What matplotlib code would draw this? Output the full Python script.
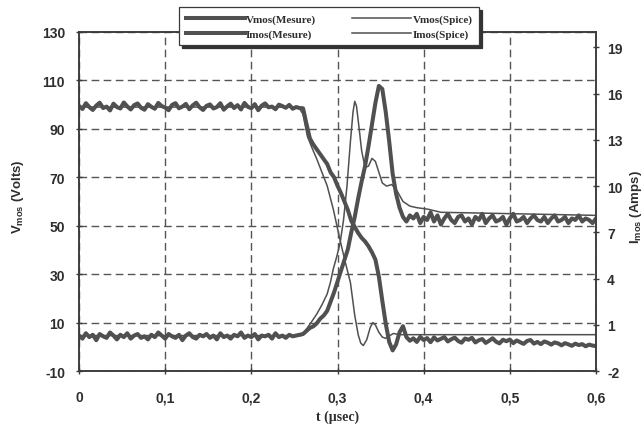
import numpy as np
import matplotlib
matplotlib.use("Agg")
import matplotlib.pyplot as plt

plt.rcParams["font.family"] = ["Liberation Sans", "DejaVu Sans"]
plt.rcParams["mathtext.fontset"] = "custom"
plt.rcParams["mathtext.rm"] = "Liberation Sans"
plt.rcParams["mathtext.bf"] = "Liberation Sans:bold"
plt.rcParams["axes.unicode_minus"] = False

# ---- sampling grid of the oscilloscope records (µs) ----
t_meas = np.round(np.arange(151) * 0.004, 3)

# ---- Vmos measured (V) ----
v_meas = [
    99.5, 98.2, 100.6, 99.0, 97.8, 99.6, 100.8, 98.6, 99.2, 97.6, 100.4, 99.0, 98.4, 100.9, 99.3, 98.0, 99.8, 100.5, 98.7, 97.9,
    100.2, 99.1, 98.3, 100.7, 99.4, 98.8, 97.7, 99.9, 100.6, 98.5, 99.2, 100.3, 98.1, 99.7, 100.8, 98.9, 97.8, 99.5, 100.1, 98.4,
    99.0, 100.6, 97.9, 99.3, 100.4, 98.6, 99.8, 98.0, 100.7, 99.1, 98.5, 100.2, 97.7, 99.6, 100.5, 98.9, 99.2, 98.1, 100.0, 99.4,
    98.7, 99.9, 98.3, 99.0, 98.6,
    98.5, 92, 86, 83.5, 81.5, 79.5, 77.5, 75.5, 72, 70, 66.5, 63.5, 60, 56.5, 52, 49.5, 47, 45, 43.5, 41.5,
    39, 36, 29, 19, 9.5, 2, -1.5, 1, 6, 8.5, 4, 2.5,
    3.5, 2.0, 4.1, 2.8, 3.6, 1.9, 3.9, 2.6, 3.3, 4.0, 2.2, 3.1, 3.8, 2.4, 1.7, 3.4, 2.9, 3.7, 1.8, 2.7,
    3.2, 1.6, 2.5, 3.5, 2.1, 1.4, 2.9, 2.3, 3.0, 1.5, 2.6, 1.9, 1.2, 2.4, 2.8, 1.3, 2.0, 1.1, 2.2, 1.7,
    0.9, 1.8, 1.4, 0.6, 1.5, 1.0, 0.4, 1.3, 0.7, 1.1, 0.2, 0.9, 0.5, 0.3,
]

# ---- Imos measured (A) ----
i_meas = [
    0.3, 0.1, 0.45, 0.2, 0.35, 0.0, 0.4, 0.25, 0.15, 0.5, 0.3, 0.05, 0.35, 0.2, 0.45, 0.1, 0.3, 0.4, 0.15, 0.25,
    0.05, 0.35, 0.2, 0.5, 0.3, 0.1, 0.4, 0.25, 0.15, 0.35, 0.0, 0.3, 0.45, 0.2, 0.1, 0.35, 0.25, 0.4, 0.15, 0.3,
    0.05, 0.45, 0.2, 0.3, 0.1, 0.35, 0.25, 0.5, 0.15, 0.3, 0.2, 0.4, 0.05, 0.3, 0.25, 0.35, 0.1, 0.45, 0.2, 0.3,
    0.15, 0.35, 0.25, 0.3, 0.35,
    0.4, 0.6, 0.8, 0.9, 1.1, 1.4, 1.6, 1.9, 2.5, 3.1, 3.8, 4.5, 5.2, 5.9, 7.0, 8.0, 9.2, 10.3, 11.3, 12.6,
    14.0, 15.4, 16.5, 16.3, 14.8, 12.9, 10.8, 9.5, 8.6, 8.0, 7.7, 8.1,
    7.9, 8.2, 7.6, 8.0, 7.8, 8.3, 7.7, 8.1, 7.5, 7.9, 8.2, 7.8, 7.6, 8.0, 8.1, 7.7, 7.9, 7.5, 8.0, 7.8,
    8.2, 7.6, 7.9, 8.1, 7.7, 7.8, 8.0, 7.5, 7.9, 8.2, 7.7, 7.8, 8.0, 7.6, 7.9, 8.1, 7.8, 7.7, 8.0, 7.6,
    7.9, 8.1, 7.7, 7.8, 8.0, 7.6, 7.9, 7.8, 8.1, 7.7, 7.9, 7.8, 7.6, 7.9,
]

# ---- Vmos simulated (Spice) ----
t_vspice = [0, 0.255, 0.260, 0.265, 0.270, 0.276, 0.282, 0.288, 0.295, 0.303, 0.309, 0.315,
            0.320, 0.324, 0.327, 0.330, 0.334, 0.338, 0.341, 0.344, 0.348, 0.352, 0.356,
            0.360, 0.365, 0.372, 0.380, 0.600]
v_spice = [99, 99, 96, 87, 82.5, 77.5, 72, 66.5, 57, 44, 35, 26.5,
           13, 5, 1.5, 0.5, 3, 8, 10, 9, 6, 4, 3.5,
           4.5, 5.5, 5.0, 5.0, 5.0]

# ---- Imos simulated (Spice) ----
t_ispice = [0, 0.258, 0.265, 0.270, 0.276, 0.282, 0.288, 0.292, 0.295, 0.299, 0.303, 0.307,
            0.311, 0.315, 0.318, 0.320, 0.322, 0.325, 0.328, 0.332, 0.336, 0.340, 0.344,
            0.348, 0.352, 0.357, 0.363, 0.369, 0.376, 0.384, 0.392, 0.405, 0.420, 0.600]
i_spice = [0.3, 0.3, 0.8, 1.2, 1.7, 2.3, 3.0, 3.8, 4.6, 5.4, 6.3, 7.8,
           10.0, 12.9, 14.8, 15.5, 15.2, 13.8, 12.3, 11.2, 11.3, 11.8, 11.6,
           10.9, 10.2, 10.0, 10.1, 9.7, 9.0, 8.7, 8.6, 8.5, 8.3, 8.1]

# ---- axes ticks ----
x_ticks = [0, 0.1, 0.2, 0.3, 0.4, 0.5, 0.6]
x_tick_labels = ["0", "0,1", "0,2", "0,3", "0,4", "0,5", "0,6"]
v_ticks = [-10, 10, 30, 50, 70, 90, 110, 130]
i_ticks = [-2, 1, 4, 7, 10, 13, 16, 19]

LINE = "#505050"
INK = "#2e2e2e"
SPINE = "#3a3a3a"

fig = plt.figure(figsize=(6.44, 4.35), dpi=100)
ax = fig.add_axes([79 / 644, 1 - 372 / 435, (596 - 79) / 644, (372 - 33) / 435])
ax2 = ax.twinx()

ax.set_xlim(0, 0.6)
ax.set_ylim(-10, 130)
ax2.set_ylim(-2, 20)

ax.set_xticks(x_ticks)
ax.set_xticklabels(x_tick_labels)
ax.set_yticks(v_ticks)
ax2.set_yticks(i_ticks)

ax.grid(True, color="#555555", linewidth=1.0, linestyle=(0, (5.5, 3.2)))
ax2.grid(False)

for a in (ax, ax2):
    for s in a.spines.values():
        s.set_color(SPINE)
        s.set_linewidth(1.1)

ax.tick_params(axis="y", direction="inout", length=5, width=1, color=SPINE,
               pad=7.5, labelsize=10, labelcolor=INK)
ax.tick_params(axis="x", direction="inout", length=5, width=1, color=SPINE,
               pad=11.5, labelsize=10, labelcolor=INK)
ax2.tick_params(axis="y", direction="inout", length=5, width=1, color=SPINE,
                pad=5.5, labelsize=10, labelcolor=INK)
for lab in ax.get_xticklabels() + ax.get_yticklabels() + ax2.get_yticklabels():
    lab.set_fontweight("bold")

l_vm, = ax.plot(t_meas, v_meas, color=LINE, linewidth=2.9, label="Vmos(Mesure)")
l_vs, = ax.plot(t_vspice, v_spice, color=LINE, linewidth=1.1, label="Vmos(Spice)")
l_im, = ax2.plot(t_meas, i_meas, color=LINE, linewidth=2.9, label="Imos(Mesure)")
l_is, = ax2.plot(t_ispice, i_spice, color=LINE, linewidth=1.1, label="Imos(Spice)")

# axis titles
fig.text(18 / 644, 1 - 197 / 435, r"$\mathbf{V_{mos}}$ (Volts)", rotation=90,
         ha="center", va="center", fontsize=9.5, fontweight="bold", color=INK)
fig.text(628 / 644, 1 - 207 / 435, r"$\mathbf{I_{mos}}$ (Amps)", rotation=90,
         ha="left", va="center", fontsize=9.5, fontweight="bold", color=INK)
fig.text((79 + 596) / 2 / 644, 1 - 417 / 435, "t (\u00b5sec)", ha="center", va="center",
         fontsize=10, fontweight="bold", color=INK, family="Liberation Serif")

leg = fig.legend([l_vm, l_im, l_vs, l_is],
                 ["Vmos(Mesure)", "Imos(Mesure)", "Vmos(Spice)", "Imos(Spice)"],
                 ncol=2, loc="upper left", bbox_to_anchor=(179 / 644, 1 - 8 / 435),
                 borderaxespad=0, fancybox=False, shadow={"color": "#333333", "alpha": 1},
                 frameon=True, handlelength=5.3, handletextpad=0.1, columnspacing=3.3,
                 labelspacing=0.45, borderpad=0.6,
                 prop={"family": "Liberation Serif", "size": 8, "weight": "bold"})
leg.get_frame().set_edgecolor(SPINE)
leg.get_frame().set_linewidth(0.9)
for txt in leg.get_texts():
    txt.set_color(INK)

fig.savefig("out.png", dpi=100)
